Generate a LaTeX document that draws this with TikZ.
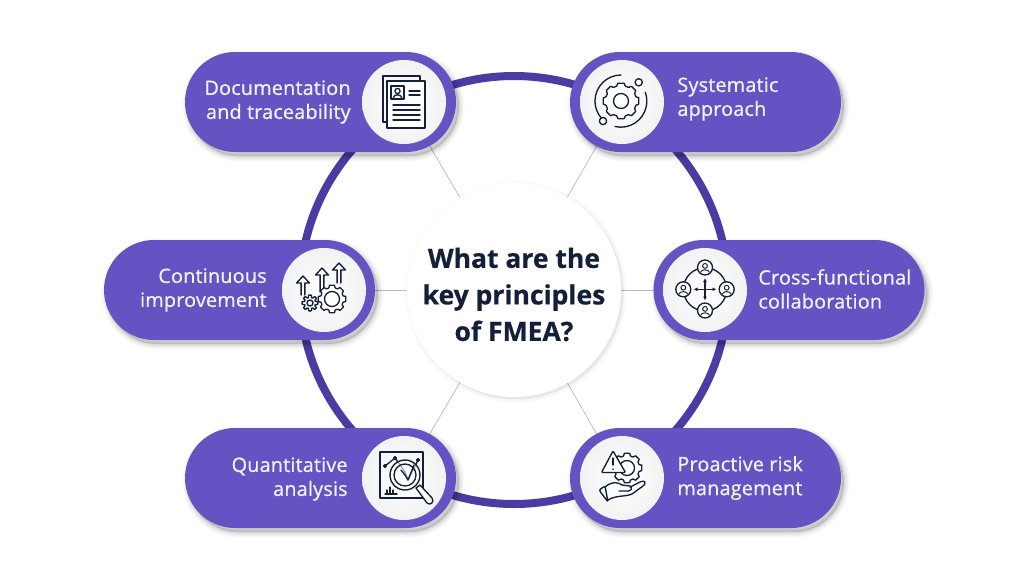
\documentclass[tikz,border=0pt]{standalone}
\usepackage{fontspec}
\setmainfont{Open Sans}
\newfontfamily\pillfont[LetterSpace=1,FakeBold=.6]{Open Sans}
\newfontfamily\titlefont[FakeBold=.5]{Open Sans Bold}
\usetikzlibrary{positioning,shadows,arrows.meta,backgrounds}

\definecolor{pillviolet}{HTML}{6453C2}
\definecolor{ringviolet}{HTML}{4C3BA3}
\definecolor{inkblue}{HTML}{14203A}
\definecolor{spokegray}{HTML}{B9B9BD}
\definecolor{pillwhite}{HTML}{F5F3FD}

\tikzset{
  softshadow/.style={
    general shadow={shadow xshift=3pt,shadow yshift=-4pt,fill=black,draw=black,line width=12pt,opacity=.015},
    general shadow={shadow xshift=3pt,shadow yshift=-4pt,fill=black,draw=black,line width=9pt,opacity=.03},
    general shadow={shadow xshift=3pt,shadow yshift=-4pt,fill=black,draw=black,line width=6pt,opacity=.045},
    general shadow={shadow xshift=3pt,shadow yshift=-4pt,fill=black,draw=black,line width=3pt,opacity=.06}},
  pillbox/.style={rectangle,rounded corners=50pt,fill=pillviolet,minimum width=271pt,minimum height=100pt,inner sep=0pt,softshadow},
  iconbase/.style={circle,minimum size=84pt,inner sep=0pt,inner color=white,outer color=black!5},
  pilltext/.style={text=pillwhite,inner sep=0pt,font=\pillfont\fontsize{19.8}{24}\selectfont},
  spoke/.style={draw=spokegray,line width=.7pt},
  iconline/.style={draw=inkblue,line width=1.35pt,line join=round,line cap=round},
  pics/gearmark/.style 2 args={code={
    \draw[iconline,fill=white,rounded corners=.4pt] (-10:#1) \foreach \a in {0,45,...,315} {
      -- (\a-10:#1) -- (\a+10:#1) -- (\a+16:#1-2.5) -- (\a+29:#1-2.5)} -- cycle;
    \draw[iconline] (0,0) circle (#2);
  }},
  pics/hollowup/.style 2 args={code={
    \draw[iconline] (-1.9,#2) -- (-1.9,#1+7) -- (-6.5,#1+7) -- (0,#1) -- (6.5,#1+7) -- (1.9,#1+7) -- (1.9,#2);
  }},
  pics/personmark/.style={code={
    \draw[iconline,fill=white] (0,0) circle (7.5);
    \draw[iconline,line width=1pt] (0,-1.6) circle (2.4);
    \draw[iconline,line width=1pt] (-4.3,4.6) .. controls (-3.6,1.6) and (3.6,1.6) .. (4.3,4.6);
  }}
}

\begin{document}
\begin{tikzpicture}[x=1pt,y=-1pt]
\useasboundingbox (0,0) rectangle (1024,576);

% pills
\node[pillbox] (pilldoc) at (320.5,102) {};
\node[pillbox] (pillsys) at (705.5,102) {};
\node[pillbox] (pillcon) at (239.5,290) {};
\node[pillbox] (pillcross) at (789,290) {};
\node[pillbox] (pillquant) at (320.5,478) {};
\node[pillbox] (pillrisk) at (705.5,478) {};

\node[iconbase] (icondoc) at (404,102) {};
\node[iconbase] (iconsys) at (622,102) {};
\node[iconbase] (iconcon) at (324,290) {};
\node[iconbase] (iconcross) at (705,290) {};
\node[iconbase] (iconquant) at (404,478) {};
\node[iconbase] (iconrisk) at (622,478) {};

\node[circle,minimum size=214pt,inner sep=0pt,fill=white,
  general shadow={shadow xshift=2pt,shadow yshift=-2pt,fill=black,draw=black,line width=9pt,opacity=.012},
  general shadow={shadow xshift=2pt,shadow yshift=-2pt,fill=black,draw=black,line width=5pt,opacity=.018},
  general shadow={shadow xshift=2pt,shadow yshift=-2pt,fill=black,draw=black,line width=2pt,opacity=.025}] (hub) at (514,290) {};
\node[text=inkblue,align=center,font=\titlefont\fontsize{26.5}{36.5}\selectfont,yshift=-4.5pt] (title) at (hub) {What are the\\key principles\\of FMEA?};

% ring and spokes go under the pills
\begin{scope}[on background layer]
\node[circle,draw=ringviolet,line width=8pt,minimum size=428pt,inner sep=0pt] (ring) at (hub) {};
\draw[spoke] (hub) -- (icondoc);
\draw[spoke] (hub) -- (iconsys);
\draw[spoke] (hub) -- (iconcon);
\draw[spoke] (hub) -- (iconcross);
\draw[spoke] (hub) -- (iconquant);
\draw[spoke] (hub) -- (iconrisk);
\end{scope}

% labels
\node[pilltext,align=right,left=11pt of icondoc] (textdoc) {Documentation\\and traceability};
\node[pilltext,align=left,right=13pt of iconsys,yshift=3pt] (textsys) {Systematic\\approach};
\node[pilltext,align=right,left=15pt of iconcon] (textcon) {Continuous\\improvement};
\node[pilltext,align=left,right=11pt of iconcross,yshift=1pt] (textcross) {Cross-functional\\collaboration};
\node[pilltext,align=right,left=14pt of iconquant,yshift=-1pt] (textquant) {Quantitative\\analysis};
\node[pilltext,align=left,right=13pt of iconrisk] (textrisk) {Proactive risk\\management};

% document icon
\draw[iconline] (387,122) -- (383,122) -- (383,76) -- (420,76) -- (420,81);
\draw[iconline,fill=white] (387,81) rectangle (425,128);
\draw[iconline] (391,86) rectangle (404,99);
\draw[iconline] (397.5,91) circle (2.6);
\draw[iconline] (393,98.5) .. controls (393.5,93.5) and (401.5,93.5) .. (402,98.5);
\foreach \y in {91,95} \draw[iconline] (409,\y) -- (420,\y);
\foreach \y in {105,110,115,120} \draw[iconline] (393,\y) -- (420,\y);

% gear and orbit icon
\pic at (621,101) {gearmark={18}{7.5}};
\draw[iconline] (621,75) arc[start angle=-90,end angle=-235,radius=26];
\draw[iconline] (615,126.5) arc[start angle=103,end angle=-20,radius=26];
\draw[iconline,fill=white] (638.7,82.3) circle (3.6);
\draw[iconline,fill=white] (603,121) circle (3.6);

% improvement icon
\pic at (303,0) {hollowup={276}{295}};
\pic at (322,0) {hollowup={268}{292}};
\pic at (339,0) {hollowup={263}{283}};
\pic at (310,303) {gearmark={8}{3}};
\pic at (332,299) {gearmark={14}{7.5}};

% collaboration icon
\draw[iconline] (705,289.3) circle (21.6);
\pic at (705,267.5) {personmark};
\pic at (683.3,289.3) {personmark};
\pic at (726.7,289.3) {personmark};
\pic at (705,310.5) {personmark};
\draw[iconline,{Latex[length=4pt,width=4pt]}-{Latex[length=4pt,width=4pt]}] (693.5,289.3) -- (716.5,289.3);
\draw[iconline,{Latex[length=4pt,width=4pt]}-{Latex[length=4pt,width=4pt]}] (705,278) -- (705,300.5);

% analysis icon
\draw[iconline,line width=1.5pt] (380,452) rectangle (423,498);
\draw[iconline] (385,466) -- (395,458) -- (405,472) -- (408,480) -- (418,460);
\foreach \x/\y in {385/466,395/458,418/460} \draw[iconline,fill=white] (\x,\y) circle (1.4);
\draw[iconline] (385,494) -- (397,494);
\foreach \x/\y in {387/490,390/487,393/490} \draw[iconline] (\x,494) -- (\x,\y);
\draw[iconline,line width=1.4pt,fill=white,fill opacity=.6] (405,475) circle (15);
\draw[iconline] (405,475) circle (11);
\draw[iconline] (401,470) -- (405,475) -- (408,480) -- (414,465);
\draw[iconline,fill=white] (416,488) -- (420,485) -- (432,498) .. controls (435,502) and (430,506) .. (427,503) -- cycle;

% risk icon
\pic at (627,468) {gearmark={15}{7.5}};
\draw[iconline,fill=white,rounded corners=1pt] (613,451) -- (625.5,472.5) -- (601.5,472.5) -- cycle;
\draw[iconline] (613,458) -- (613,465);
\draw[iconline] (613,469) -- (613,469.3);
\draw[iconline,rounded corners=2pt] (599,490) -- (605,486) -- (608,502) -- cycle;
\draw[iconline] (605,487) .. controls (612,481) and (618,482) .. (622,485) -- (630,486) .. controls (633,488) and (631,491) .. (628,491) -- (619,491);
\draw[iconline] (630,487) -- (641,481.5) .. controls (646,480) and (646,484) .. (643,486) -- (632,494) .. controls (625,497) and (616,495) .. (608,500);

\end{tikzpicture}
\end{document}
